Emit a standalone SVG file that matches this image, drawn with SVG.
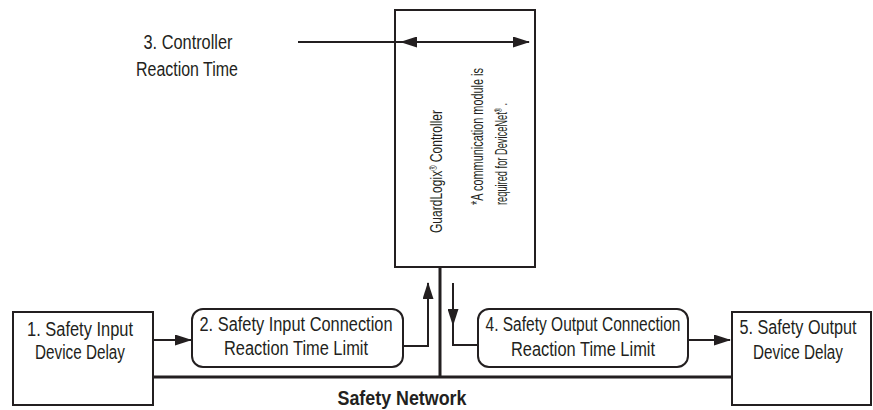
<svg xmlns="http://www.w3.org/2000/svg" width="873" height="410" viewBox="0 0 873 410">
<style>
.box{fill:#fff;stroke:#231f20;stroke-width:2}
.ln{fill:none;stroke:#231f20;stroke-width:2}
.thick{fill:none;stroke:#231f20;stroke-width:3}
.t{font-family:"Liberation Sans",Arial,sans-serif;font-size:20px;fill:#231f20;text-anchor:middle}
.r{font-family:"Liberation Sans",Arial,sans-serif;font-size:16.5px;fill:#231f20}
.b{font-weight:bold}
</style>
<defs>
<marker id="ah" markerUnits="userSpaceOnUse" viewBox="0 0 17 11" refX="16" refY="5.5" markerWidth="17" markerHeight="11" orient="auto">
<path d="M0,0 L17,5.5 L0,11 Z" fill="#231f20"/>
</marker>
</defs>
<g id="connectors">
<path class="thick" d="M153,377 H732"/>
<path class="thick" d="M440,267 V377"/>
<path class="ln" d="M298,42 H529" marker-end="url(#ah)"/>
<path class="ln" d="M418,42 H401" marker-end="url(#ah)"/>
<path class="ln" d="M153,340 H191" marker-end="url(#ah)"/>
<path class="ln" d="M403,346 H428 V283" marker-end="url(#ah)"/>
<path class="ln" d="M453,283 V325" marker-end="url(#ah)"/>
<path class="ln" d="M453,324 V345 H478"/>
<path class="ln" d="M688,340 H730" marker-end="url(#ah)"/>
</g>
<g id="controller">
<rect x="395" y="10" width="140" height="257" fill="none" stroke="#231f20" stroke-width="2"/>
<text class="r" transform="translate(442,233) rotate(-90)" textLength="123" lengthAdjust="spacingAndGlyphs">GuardLogix<tspan font-size="10" baseline-shift="super">®</tspan> Controller</text>
<text class="r" transform="translate(483,205) rotate(-90)" textLength="137" lengthAdjust="spacingAndGlyphs">*A communication module is</text>
<text class="r" transform="translate(507,205) rotate(-90)" textLength="102" lengthAdjust="spacingAndGlyphs">required for DeviceNet<tspan font-size="10" baseline-shift="super">®</tspan> .</text>
</g>
<g id="n3">
<text class="t" x="188" y="49" textLength="89" lengthAdjust="spacingAndGlyphs">3. Controller</text>
<text class="t" x="187" y="76" textLength="102" lengthAdjust="spacingAndGlyphs">Reaction Time</text>
</g>
<g id="n1">
<rect class="box" x="13" y="312" width="140" height="93"/>
<text class="t" x="80" y="336" textLength="106" lengthAdjust="spacingAndGlyphs">1. Safety Input</text>
<text class="t" x="80" y="359" textLength="90" lengthAdjust="spacingAndGlyphs">Device Delay</text>
</g>
<g id="n2">
<rect class="box" x="192" y="309" width="211" height="58" rx="11"/>
<text class="t" x="296" y="331" textLength="193" lengthAdjust="spacingAndGlyphs">2. Safety Input Connection</text>
<text class="t" x="296" y="355" textLength="144" lengthAdjust="spacingAndGlyphs">Reaction Time Limit</text>
</g>
<g id="n4">
<rect class="box" x="478" y="309" width="210" height="58" rx="11"/>
<text class="t" x="583" y="331" textLength="195" lengthAdjust="spacingAndGlyphs">4. Safety Output Connection</text>
<text class="t" x="583" y="356" textLength="144" lengthAdjust="spacingAndGlyphs">Reaction Time Limit</text>
</g>
<g id="n5">
<rect class="box" x="732" y="312" width="139" height="93"/>
<text class="t" x="798" y="334" textLength="117" lengthAdjust="spacingAndGlyphs">5. Safety Output</text>
<text class="t" x="798" y="359" textLength="90" lengthAdjust="spacingAndGlyphs">Device Delay</text>
</g>
<g id="network-label">
<text class="t b" x="402" y="405" textLength="129" lengthAdjust="spacingAndGlyphs">Safety Network</text>
</g>
</svg>
